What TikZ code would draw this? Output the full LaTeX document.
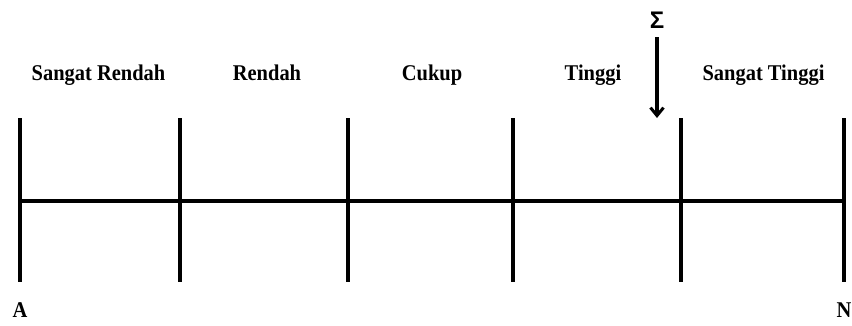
\documentclass[tikz,border=0pt]{standalone}
\usepackage{fontspec}
\setmainfont{Liberation Serif}
\newfontfamily\sigfont{Liberation Sans}
\usetikzlibrary{arrows.meta}
\newcommand{\lbltext}[1]{\scalebox{0.91}[1]{#1}}
\begin{document}
\begin{tikzpicture}[x=1pt,y=-1pt,
  bar/.style={line width=3.2pt},
  lbl/.style={font=\fontsize{22.5}{26}\selectfont\bfseries, inner sep=0pt, anchor=base}]
\useasboundingbox (0,0) rectangle (852,325);
% tick tops and bottoms
\foreach \n/\x in {a/20,b/180,c/348,d/513,e/681,f/844}{
  \coordinate (\n t) at (\x,118);
  \coordinate (\n b) at (\x,282);
  \coordinate (\n m) at (\x,201);
}
\foreach \n in {a,b,c,d,e,f}{ \draw[bar] (\n t) -- (\n b); }
\draw[bar] (am) -- (fm);
% labels
\node[lbl] (l1) at (98.5,80) {\lbltext{Sangat Rendah}};
\node[lbl] (l2) at (267,80) {\lbltext{Rendah}};
\node[lbl] (l3) at (432,80) {\lbltext{Cukup}};
\node[lbl] (l4) at (593,80) {\lbltext{Tinggi}};
\node[lbl] (l5) at (763.5,80) {\lbltext{Sangat Tinggi}};
\node[lbl] (A) at (20,317) {\lbltext{A}};
\node[lbl] (N) at (844,317) {\lbltext{N}};
% sigma arrow
\node[font=\sigfont\fontsize{24}{28}\selectfont\bfseries, inner sep=0pt, anchor=base] (sig) at (657,28.5) {Σ};
\coordinate (as) at (657,37);
\coordinate (ae) at (657,118);
\draw[bar, -{Straight Barb[length=8pt,width=13pt,line width=3pt]}] (as) -- (ae);
\end{tikzpicture}
\end{document}
